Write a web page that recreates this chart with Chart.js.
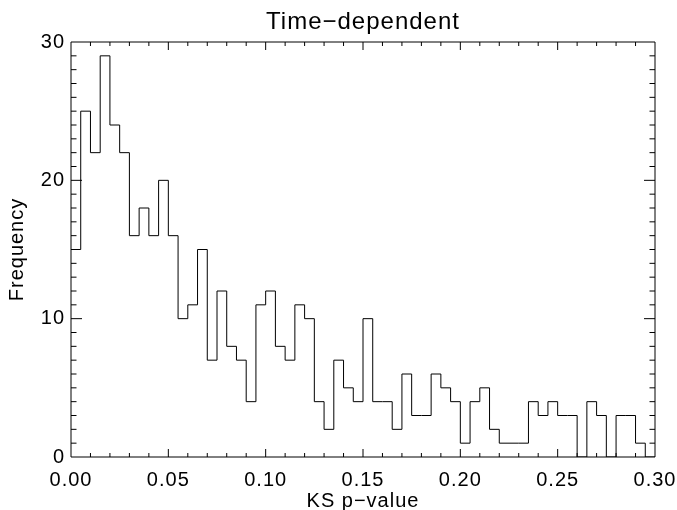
<!DOCTYPE html>
<html><head><meta charset="utf-8">
<script src="https://cdn.jsdelivr.net/npm/chart.js@4/dist/chart.umd.min.js"></script>
<style>html,body{margin:0;padding:0;background:#fff;}</style>
</head><body>
<canvas id="c" width="677" height="510"></canvas>
<script>
const chartTitle = 'Time\u2212dependent';
const xTitle = 'KS p\u2212value';
const yTitle = 'Frequency';
const binLeftEdges = [0.000,0.005,0.010,0.015,0.020,0.025,0.030,0.035,0.040,0.045,
  0.050,0.055,0.060,0.065,0.070,0.075,0.080,0.085,0.090,0.095,
  0.100,0.105,0.110,0.115,0.120,0.125,0.130,0.135,0.140,0.145,
  0.150,0.155,0.160,0.165,0.170,0.175,0.180,0.185,0.190,0.195,
  0.200,0.205,0.210,0.215,0.220,0.225,0.230,0.235,0.240,0.245,
  0.250,0.255,0.260,0.265,0.270,0.275,0.280,0.285,0.290,0.295];
const binRightEnd = 0.300;
const counts = [15,25,22,29,24,22,16,18,16,20,
  16,10,11,15,7,12,8,7,4,11,
  12,8,7,11,10,4,2,7,5,4,
  10,4,4,2,6,3,3,6,5,4,
  1,4,5,2,1,1,1,4,3,4,
  3,3,0,4,3,0,3,3,1,0];
const xTickLabels = ['0.00','0.05','0.10','0.15','0.20','0.25','0.30'];
const yTickLabels = ['0','10','20','30'];
const xMinorStep = 0.01;
const yMinorStep = 1;

const FONT = "'Liberation Sans', Arial, Helvetica, sans-serif";
const SPACING = '1px';

const points = binLeftEdges.map((x, i) => ({x: x, y: counts[i]}));
points.push({x: binRightEnd, y: counts[counts.length - 1]});

const frame = {
  id: 'frame',
  beforeLayout(chart) { chart.ctx.letterSpacing = SPACING; },
  beforeDraw(chart) {
    const c = chart.ctx;
    c.letterSpacing = SPACING;
    c.save(); c.fillStyle = '#fff'; c.fillRect(0, 0, chart.width, chart.height); c.restore();
  },
  afterDatasetsDraw(chart) {
    const {ctx, chartArea: a, scales: {x, y}} = chart;
    ctx.save();
    ctx.strokeStyle = '#000';
    ctx.lineWidth = 1;
    ctx.beginPath();
    ctx.rect(a.left, a.top, a.right - a.left, a.bottom - a.top);
    ctx.stroke();
    ctx.beginPath();
    const nx = Math.round((x.max - x.min) / xMinorStep);
    for (let i = 1; i < nx; i++) {
      const px = x.getPixelForValue(x.min + i * xMinorStep);
      const len = (i % 5 === 0) ? 8 : 4;
      ctx.moveTo(px, a.bottom); ctx.lineTo(px, a.bottom - len);
      ctx.moveTo(px, a.top); ctx.lineTo(px, a.top + len);
    }
    const ny = Math.round((y.max - y.min) / yMinorStep);
    for (let i = 1; i < ny; i++) {
      const py = y.getPixelForValue(y.min + i * yMinorStep);
      const len = (i % 10 === 0) ? 11 : 5.5;
      ctx.moveTo(a.left, py); ctx.lineTo(a.left + len, py);
      ctx.moveTo(a.right, py); ctx.lineTo(a.right - len, py);
    }
    ctx.stroke();
    ctx.restore();
  }
};

new Chart(document.getElementById('c'), {
  type: 'line',
  data: {
    datasets: [{
      data: points,
      stepped: 'before',
      borderColor: '#000',
      borderWidth: 1,
      pointRadius: 0,
      fill: false,
      tension: 0
    }]
  },
  options: {
    responsive: false,
    animation: false,
    devicePixelRatio: 1,
    layout: {padding: {left: 0, right: 22, top: 0, bottom: 0}},
    plugins: {
      legend: {display: false},
      tooltip: {enabled: false},
      title: {
        display: true, text: chartTitle, color: '#000', fullSize: false,
        font: {family: FONT, size: 24, weight: 'normal'},
        padding: {top: 8, bottom: 5.2}
      }
    },
    scales: {
      x: {
        type: 'linear', min: 0, max: 0.3,
        grid: {display: false, drawTicks: false},
        border: {display: false},
        afterBuildTicks(s) { s.ticks = xTickLabels.map(t => ({value: parseFloat(t)})); },
        ticks: {
          color: '#000', font: {family: FONT, size: 20}, padding: 11,
          maxRotation: 0, autoSkip: false,
          callback: (v, i) => xTickLabels[i]
        },
        title: {display: true, text: xTitle, color: '#000', font: {family: FONT, size: 20}, padding: {top: 0, bottom: -3}},
        afterFit(s) { s.height = 53; s.paddingLeft = 0; s.paddingRight = 0; }
      },
      y: {
        type: 'linear', min: 0, max: 30,
        grid: {display: false, drawTicks: false},
        border: {display: false},
        afterBuildTicks(s) { s.ticks = yTickLabels.map(t => ({value: parseFloat(t)})); },
        ticks: {
          color: '#000', font: {family: FONT, size: 20}, padding: 6,
          autoSkip: false, align: 'inner',
          callback: (v, i) => yTickLabels[i]
        },
        title: {display: true, text: yTitle, color: '#000', font: {family: FONT, size: 20}, padding: {top: 5, bottom: 0}},
        afterFit(s) { s.width = 71; s.paddingTop = 0; s.paddingBottom = 0; }
      }
    }
  },
  plugins: [frame]
});
</script>
</body></html>
